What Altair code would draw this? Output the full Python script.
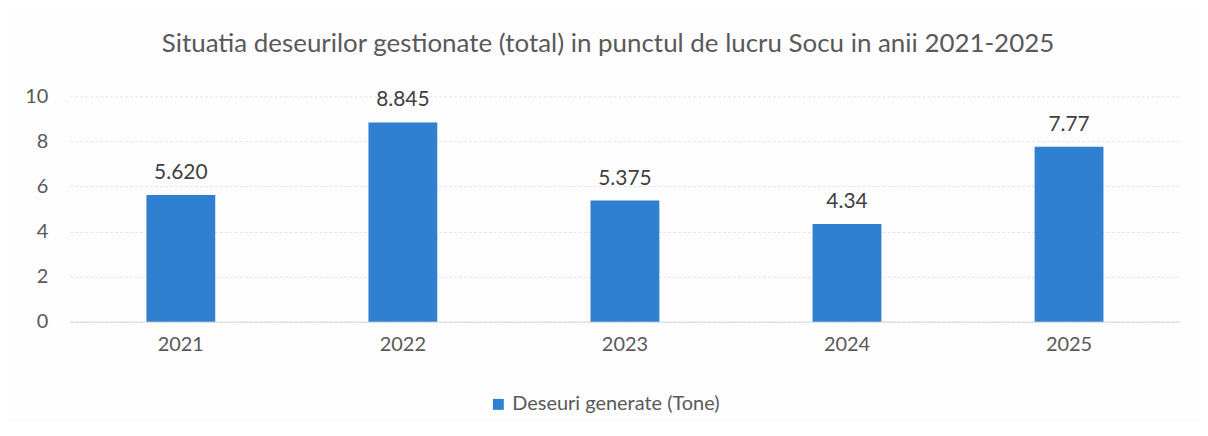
import altair as alt
import pandas as pd

years = ["2021", "2022", "2023", "2024", "2025"]
values = [5.62, 8.845, 5.375, 4.34, 7.77]
labels = ["5.620", "8.845", "5.375", "4.34", "7.77"]
series = ["Deseuri generate (Tone)"] * 5

df = pd.DataFrame({"year": years, "value": values, "label": labels, "series": series})

FONT = "Lato"
base = alt.Chart(df)

bars = base.mark_bar(color="#2F80D1").encode(
    x=alt.X("year:N", sort=years, title=None,
            scale=alt.Scale(paddingInner=0.69, paddingOuter=0.345),
            axis=alt.Axis(labelAngle=0, labelFontSize=20, labelColor="#595959", labelFont=FONT,
                          labelPadding=13, ticks=False, domainColor="#D9D9D9", grid=False)),
    y=alt.Y("value:Q", title=None,
            scale=alt.Scale(domain=[0, 10]),
            axis=alt.Axis(values=[0, 2, 4, 6, 8, 10], labelFontSize=20, labelColor="#595959",
                          labelFont=FONT, labelPadding=22, ticks=False, domain=False,
                          gridColor="#E4E4E4", gridDash=[3, 2])),
    fill=alt.Fill("series:N", scale=alt.Scale(range=["#2F80D1"]),
                  legend=alt.Legend(title=None, orient="none", legendX=420, legendY=299,
                                    symbolType="square", symbolSize=120, labelFontSize=20,
                                    labelColor="#595959", labelFont=FONT, symbolStrokeWidth=0,
                                    labelLimit=400, symbolOffset=0)),
)

text = base.mark_text(baseline="bottom", dy=-12, fontSize=21, color="#404040", font=FONT).encode(
    x=alt.X("year:N", sort=years),
    y="value:Q",
    text="label:N",
)

chart = (bars + text).properties(
    width=1114, height=226,
    autosize=alt.AutoSizeParams(type="none"),
    padding={"left": 62, "top": 88, "right": 20, "bottom": 100},
    title=alt.Title("Situatia deseurilor gestionate (total) in punctul de lucru Socu in anii 2021-2025",
                    fontSize=26, font=FONT, fontWeight="normal", color="#595959",
                    anchor="middle", dx=-17, offset=30),
).configure(background="#FDFDFD").configure_view(stroke=None)

chart.save("out.html", embed_options={"renderer": "svg", "actions": False})
